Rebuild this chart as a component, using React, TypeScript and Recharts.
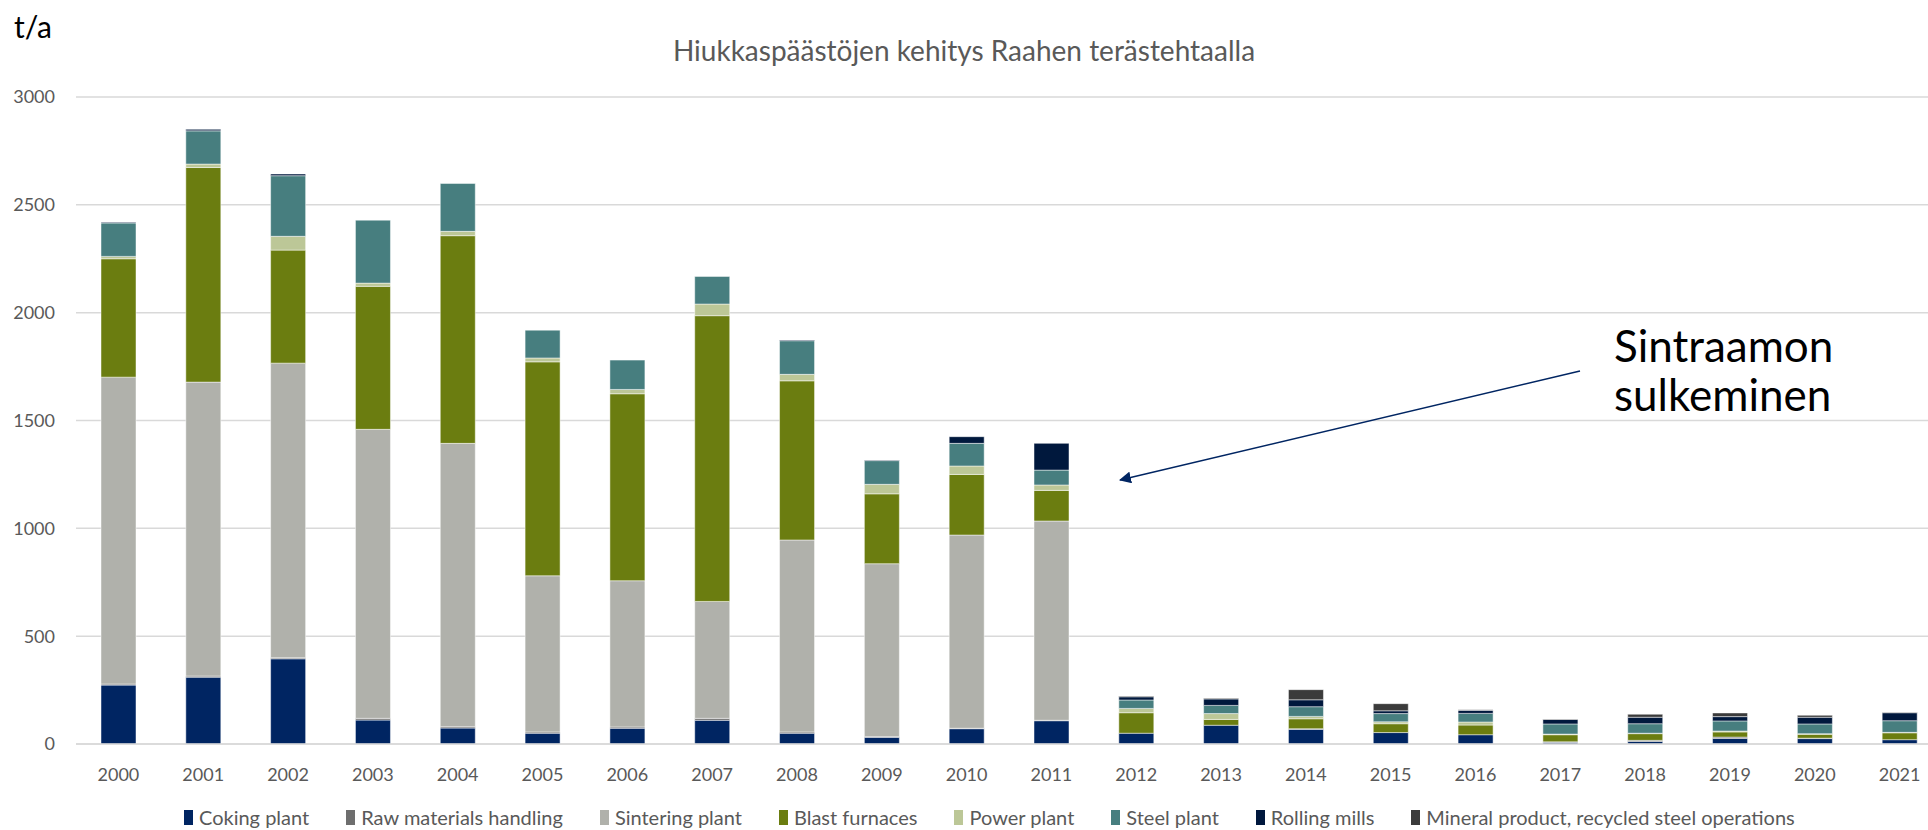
import React from "react"
import { Bar, BarChart, CartesianGrid, XAxis, YAxis } from "recharts"

const years = [
  "2000", "2001", "2002", "2003", "2004", "2005", "2006", "2007", "2008", "2009", "2010",
  "2011", "2012", "2013", "2014", "2015", "2016", "2017", "2018", "2019", "2020", "2021",
]

const coking = [273, 310, 395, 111, 74, 50, 73, 110, 50, 31, 71, 108, 50, 87, 68, 53, 43, 8, 12, 26, 25, 20]
const rawMaterials = [5, 5, 5, 8, 6, 6, 6, 9, 6, 3, 2, 2, 0, 0, 3, 0, 0, 2, 5, 6, 2, 0]
const sintering = [1423, 1363, 1366, 1340, 1314, 724, 678, 542, 890, 802, 896, 924, 0, 0, 0, 0, 0, 0, 0, 0, 0, 0]
const blastFurnaces = [549, 995, 524, 663, 963, 992, 867, 1325, 738, 324, 281, 142, 95, 27, 46, 41, 45, 33, 31, 24, 18, 32]
const powerPlant = [11, 16, 64, 15, 20, 18, 20, 54, 30, 44, 39, 25, 20, 27, 11, 9, 14, 3, 2, 4, 3, 2]
const steelPlant = [155, 154, 281, 292, 222, 129, 136, 128, 156, 110, 105, 69, 39, 38, 45, 38, 40, 47, 44, 47, 45, 54]
const rollingMills = [3, 7, 8, 0, 0, 0, 0, 0, 3, 3, 31, 124, 15, 30, 32, 13, 14, 21, 30, 20, 31, 37]
const mineral = [0, 0, 0, 0, 0, 0, 0, 0, 0, 0, 0, 0, 3, 3, 47, 33, 3, 2, 14, 17, 9, 2]

const yTicks = [0, 500, 1000, 1500, 2000, 2500, 3000]

const series = [
  { key: "coking", name: "Coking plant", color: "#002562", values: coking },
  { key: "raw", name: "Raw materials handling", color: "#6e6e6e", values: rawMaterials },
  { key: "sinter", name: "Sintering plant", color: "#b0b1ab", values: sintering },
  { key: "blast", name: "Blast furnaces", color: "#6b7d10", values: blastFurnaces },
  { key: "power", name: "Power plant", color: "#bcc797", values: powerPlant },
  { key: "steel", name: "Steel plant", color: "#477e7f", values: steelPlant },
  { key: "rolling", name: "Rolling mills", color: "#00183d", values: rollingMills },
  { key: "mineral", name: "Mineral product, recycled steel operations", color: "#3b3b3b", values: mineral },
]

const data = years.map((year, i) => {
  const row: Record<string, string | number> = { year }
  series.forEach((s) => {
    row[s.key] = s.values[i]
  })
  return row
})

const font = 'Lato, "Open Sans", sans-serif'

export default function App() {
  return (
    <div
      style={{
        position: "absolute",
        left: 0,
        top: 0,
        width: 1928,
        height: 830,
        overflow: "hidden",
        background: "#ffffff",
        fontFamily: font,
      }}
    >
      <BarChart
        width={1952}
        height={830}
        data={data}
        margin={{ top: 97, right: 10, bottom: 0, left: 0 }}
        barSize={35}
      >
        <CartesianGrid vertical={false} stroke="#d9d9d9" strokeWidth={1.5} />
        <XAxis
          dataKey="year"
          height={86}
          interval={0}
          tickLine={false}
          axisLine={{ stroke: "#d9d9d9", strokeWidth: 1.5 }}
          tick={{ fill: "#595959", fontSize: 18 }}
          tickMargin={18}
        />
        <YAxis
          width={76}
          domain={[0, 3000]}
          ticks={yTicks}
          axisLine={false}
          tickLine={false}
          tick={{ fill: "#595959", fontSize: 18 }}
          tickMargin={15}
        />
        {series.map((s) => (
          <Bar
            key={s.key}
            dataKey={s.key}
            name={s.name}
            stackId="total"
            fill={s.color}
            stroke="#ffffff"
            strokeOpacity={0.6}
            strokeWidth={0.8}
            isAnimationActive={false}
          />
        ))}
      </BarChart>

      {/* unit label */}
      <div style={{ position: "absolute", left: 14, top: 8, fontSize: 30, color: "#000" }}>t/a</div>

      {/* title */}
      <div
        style={{
          position: "absolute",
          left: 0,
          width: 1928,
          top: 33,
          textAlign: "center",
          fontSize: 28,
          color: "#595959",
        }}
      >
        Hiukkaspäästöjen kehitys Raahen terästehtaalla
      </div>

      {/* annotation */}
      <div
        style={{
          position: "absolute",
          left: 1614,
          top: 321,
          fontSize: 44,
          lineHeight: "49px",
          color: "#000",
        }}
      >
        Sintraamon
        <br />
        sulkeminen
      </div>
      <svg
        width={1928}
        height={830}
        style={{ position: "absolute", left: 0, top: 0, pointerEvents: "none" }}
      >
        <defs>
          <marker id="arrowHead" markerWidth="12" markerHeight="12" refX="11" refY="6" orient="auto" markerUnits="userSpaceOnUse">
            <path d="M0,0 L12,6 L0,12 Z" fill="#002562" />
          </marker>
        </defs>
        <line x1={1580} y1={371} x2={1120} y2={480} stroke="#002562" strokeWidth={1.5} markerEnd="url(#arrowHead)" />
      </svg>

      {/* legend */}
      <div
        style={{
          position: "absolute",
          left: 184,
          top: 805,
          display: "flex",
          gap: 37,
          fontSize: 20,
          color: "#595959",
          whiteSpace: "nowrap",
        }}
      >
        {series.map((s) => (
          <div key={s.key} style={{ display: "flex", alignItems: "center", gap: 6 }}>
            <span style={{ display: "inline-block", width: 9, height: 15, background: s.color }} />
            <span>{s.name}</span>
          </div>
        ))}
      </div>
    </div>
  )
}
